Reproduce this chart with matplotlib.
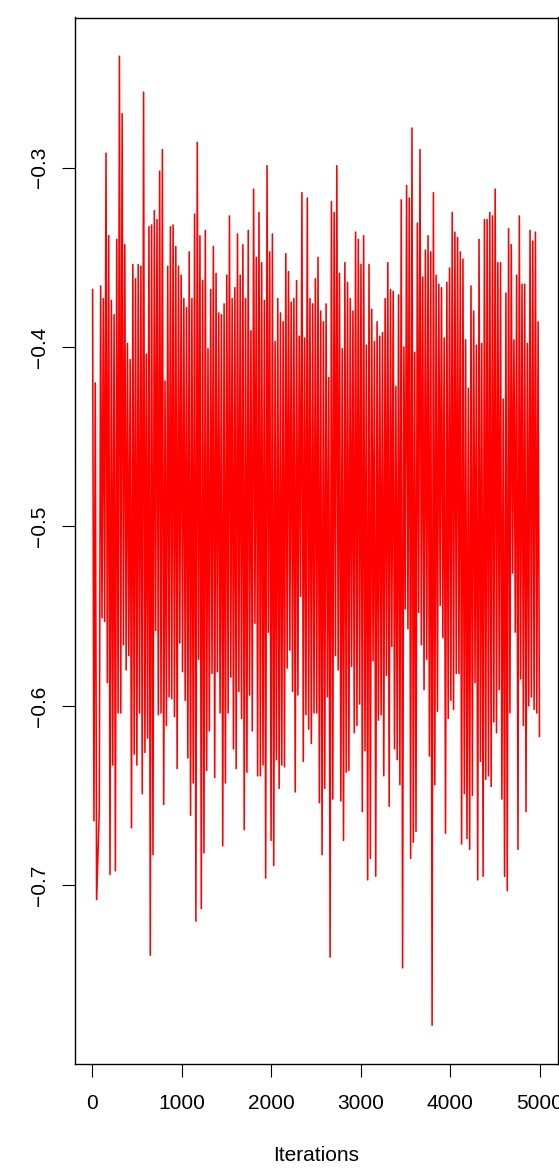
import numpy as np
import matplotlib
matplotlib.use("Agg")
import matplotlib.pyplot as plt

# MCMC trace: local highs and local lows with the
# iteration at which each one sits
upper_iter = [
    1, 30, 56, 97, 123, 149, 168, 194, 216, 228,
    246, 265, 291, 309, 328, 350, 376, 399, 432, 458,
    477, 496, 518, 540, 559, 577, 600, 615, 633, 656,
    674, 697, 726, 745, 767, 786, 808, 831, 842, 860,
    879, 898, 920, 942, 965, 987, 1017, 1043, 1069, 1087,
    1114, 1136, 1158, 1177, 1199, 1221, 1240, 1262, 1281, 1303,
    1322, 1352, 1374, 1393, 1419, 1437, 1456, 1478, 1497, 1519,
    1542, 1560, 1579, 1601, 1620, 1642, 1657, 1679, 1702, 1720,
    1743, 1765, 1787, 1810, 1836, 1862, 1884, 1906, 1929, 1951,
    1970, 1988, 2011, 2033, 2055, 2081, 2108, 2126, 2152, 2171,
    2182, 2200, 2219, 2245, 2268, 2290, 2308, 2331, 2353, 2375,
    2402, 2420,
    2435, 2457, 2476, 2495, 2513, 2528, 2550, 2569, 2580, 2599,
    2617, 2636, 2651, 2673, 2688, 2714, 2737, 2759, 2781, 2807,
    2830, 2848, 2871, 2885, 2904, 2926, 2949, 2971, 2993, 3016,
    3034, 3057, 3079, 3094, 3113, 3135, 3157, 3172, 3198, 3217,
    3239, 3258, 3280, 3302, 3325, 3347, 3366, 3388, 3407, 3425,
    3444, 3459, 3477, 3496, 3511, 3526, 3548, 3563, 3574, 3589,
    3608, 3623, 3637, 3652, 3667, 3690, 3704, 3723, 3745, 3771,
    3794, 3812, 3835, 3853, 3876, 3898, 3917, 3943, 3961, 3984,
    3999, 4017, 4032, 4051, 4069, 4088, 4106, 4129, 4144, 4170,
    4196, 4214, 4233, 4255, 4274, 4293, 4311, 4330, 4348, 4367,
    4386, 4404, 4423, 4442, 4460, 4479, 4497, 4516, 4535, 4553,
    4568, 4583, 4605, 4624, 4643, 4657, 4676, 4695, 4713, 4732,
    4751, 4769, 4784, 4799, 4818, 4836, 4855, 4873, 4892, 4911,
    4929, 4948, 4967, 4985, 5000,
]
upper_val = [
    -0.368, -0.408, -0.420, -0.366, -0.393, -0.373, -0.292, -0.338, -0.408, -0.374,
    -0.397, -0.382, -0.340, -0.238, -0.382, -0.270, -0.343, -0.398, -0.407, -0.385,
    -0.354, -0.362, -0.392, -0.354, -0.355, -0.343, -0.258, -0.404, -0.392, -0.333,
    -0.332, -0.324, -0.329, -0.379, -0.302, -0.290, -0.376, -0.419, -0.380, -0.355,
    -0.333, -0.388, -0.332, -0.344, -0.355, -0.366, -0.360, -0.373, -0.378, -0.347,
    -0.373, -0.402, -0.326, -0.286, -0.396, -0.338, -0.363, -0.388, -0.335, -0.401,
    -0.368, -0.344, -0.345, -0.359, -0.381, -0.391, -0.382, -0.376, -0.384, -0.360,
    -0.338, -0.327, -0.373, -0.367, -0.370, -0.337, -0.360, -0.386, -0.343, -0.373,
    -0.393, -0.335, -0.391, -0.312, -0.350, -0.325, -0.370, -0.353, -0.374, -0.341,
    -0.299, -0.347, -0.337, -0.357, -0.397, -0.373, -0.381, -0.390, -0.386, -0.374,
    -0.348, -0.381, -0.358, -0.375, -0.373, -0.375, -0.363, -0.394, -0.314, -0.395,
    -0.317, -0.340,
    -0.373, -0.407, -0.376, -0.362, -0.386, -0.406, -0.350, -0.380, -0.423, -0.386,
    -0.376, -0.392, -0.417, -0.406, -0.319, -0.325, -0.348, -0.299, -0.359, -0.401,
    -0.396, -0.353, -0.364, -0.373, -0.398, -0.380, -0.336, -0.391, -0.340, -0.354,
    -0.338, -0.391, -0.399, -0.401, -0.354, -0.379, -0.399, -0.397, -0.386, -0.410,
    -0.394, -0.392, -0.373, -0.369, -0.353, -0.368, -0.369, -0.386, -0.422, -0.386,
    -0.371, -0.372, -0.318, -0.400, -0.403, -0.310, -0.322, -0.317, -0.278, -0.406,
    -0.424, -0.403, -0.345, -0.331, -0.290, -0.361, -0.361, -0.346, -0.350, -0.338,
    -0.347, -0.327, -0.314, -0.360, -0.365, -0.367, -0.367, -0.395, -0.364, -0.399,
    -0.364, -0.356, -0.325, -0.369, -0.336, -0.366, -0.339, -0.347, -0.351, -0.381,
    -0.396, -0.423, -0.366, -0.391, -0.380, -0.413, -0.399, -0.340, -0.388, -0.398,
    -0.429, -0.329, -0.329, -0.399, -0.325, -0.344, -0.327, -0.312, -0.353, -0.353,
    -0.353, -0.388, -0.429, -0.394, -0.370, -0.334, -0.342, -0.343, -0.396, -0.397,
    -0.365, -0.360, -0.332, -0.327, -0.365, -0.365, -0.422, -0.398, -0.346, -0.335,
    -0.341, -0.341, -0.336, -0.386, -0.386,
]

lower_iter = [
    1, 23, 56, 86, 116, 135, 153, 179, 198, 216,
    235, 257, 291, 309, 328, 347, 369, 388, 406, 432,
    443, 466, 496, 518, 533, 555, 570, 592, 618, 637,
    656, 674, 697, 711, 726, 749, 767, 786, 805, 823,
    842, 860, 879, 898, 916, 935, 953, 972, 991, 1009,
    1035, 1054, 1073, 1091, 1114, 1128, 1147, 1166, 1177, 1195,
    1203, 1214, 1233, 1240, 1255, 1277, 1296, 1314, 1333, 1352,
    1370, 1389, 1408, 1426, 1445, 1463, 1489, 1501, 1519, 1538,
    1556, 1575, 1594, 1605, 1612, 1631, 1650, 1668, 1687, 1702,
    1724, 1743, 1761, 1780, 1799, 1817, 1836, 1854, 1873, 1880,
    1892, 1910, 1929, 1940, 1966, 1985, 2011, 2033, 2041, 2059,
    2085, 2096, 2115, 2133, 2152, 2171, 2189, 2208, 2227, 2245,
    2264, 2275, 2290, 2305, 2320, 2338, 2357, 2376, 2394, 2413,
    2439, 2457, 2476, 2498, 2513, 2535, 2554, 2562, 2573, 2599,
    2617, 2640, 2658, 2677, 2692, 2714, 2729, 2748, 2763, 2781,
    2800, 2811, 2841, 2859, 2871, 2878, 2897, 2915, 2934, 2952,
    2971, 2990, 3005, 3019, 3027, 3046, 3064, 3083, 3101, 3120,
    3139, 3153, 3176, 3194, 3213, 3232, 3250, 3269, 3288, 3302,
    3325, 3343, 3362, 3381, 3399, 3418, 3436, 3444, 3462, 3474,
    3492, 3511, 3529, 3548, 3559, 3585, 3604, 3611, 3623, 3641,
    3660, 3679, 3697, 3716, 3734, 3753, 3771, 3790, 3805, 3824,
    3846, 3865, 3883, 3902, 3920, 3939, 3950, 3976, 3995, 4013,
    4032, 4051, 4069, 4088, 4106, 4121, 4144, 4166, 4181, 4196,
    4222, 4237, 4259, 4274, 4293, 4311, 4319, 4330, 4352, 4375,
    4386, 4404, 4423, 4442, 4449, 4460, 4479, 4497, 4516, 4535,
    4553, 4572, 4583, 4605, 4624, 4646, 4665, 4684, 4702, 4721,
    4747, 4758, 4777, 4795, 4814, 4844, 4851, 4870, 4888, 4907,
    4926, 4944, 4963, 4981, 5000,
]
lower_val = [
    -0.589, -0.664, -0.708, -0.658, -0.551, -0.553, -0.564, -0.587, -0.694, -0.633,
    -0.607, -0.692, -0.604, -0.604, -0.578, -0.566, -0.579, -0.580, -0.572, -0.668,
    -0.597, -0.627, -0.633, -0.604, -0.578, -0.649, -0.627, -0.626, -0.618, -0.591,
    -0.739, -0.683, -0.552, -0.558, -0.605, -0.585, -0.604, -0.655, -0.609, -0.611,
    -0.582, -0.595, -0.596, -0.582, -0.606, -0.605, -0.635, -0.565, -0.581, -0.575,
    -0.597, -0.607, -0.629, -0.661, -0.562, -0.643, -0.720, -0.601, -0.544, -0.574,
    -0.713, -0.640, -0.653, -0.639, -0.682, -0.636, -0.614, -0.570, -0.582, -0.602,
    -0.640, -0.581, -0.547, -0.604, -0.628, -0.678, -0.643, -0.602, -0.604, -0.557,
    -0.584, -0.624, -0.635, -0.635, -0.591, -0.561, -0.592, -0.607, -0.641, -0.669,
    -0.637, -0.594, -0.577, -0.614, -0.585, -0.554, -0.621, -0.639, -0.639, -0.632,
    -0.633, -0.581, -0.597, -0.696, -0.559, -0.675, -0.676, -0.689, -0.629, -0.630,
    -0.646, -0.593, -0.633, -0.634, -0.621, -0.579, -0.570, -0.569, -0.560, -0.592,
    -0.630, -0.648, -0.594, -0.558, -0.532, -0.539, -0.631, -0.605, -0.594, -0.613,
    -0.621, -0.604, -0.604, -0.524, -0.604, -0.654, -0.630, -0.683, -0.617, -0.646,
    -0.543, -0.595, -0.740, -0.577, -0.652, -0.537, -0.572, -0.580, -0.606, -0.653,
    -0.645, -0.675, -0.637, -0.570, -0.635, -0.636, -0.578, -0.615, -0.598, -0.611,
    -0.566, -0.599, -0.617, -0.659, -0.620, -0.625, -0.625, -0.697, -0.685, -0.604,
    -0.575, -0.695, -0.639, -0.608, -0.605, -0.593, -0.639, -0.612, -0.583, -0.656,
    -0.559, -0.567, -0.624, -0.611, -0.602, -0.630, -0.639, -0.644, -0.746, -0.558,
    -0.546, -0.557, -0.522, -0.641, -0.685, -0.676, -0.619, -0.670, -0.606, -0.534,
    -0.548, -0.566, -0.591, -0.566, -0.574, -0.628, -0.564, -0.613, -0.778, -0.644,
    -0.592, -0.603, -0.544, -0.528, -0.562, -0.581, -0.671, -0.607, -0.597, -0.597,
    -0.602, -0.567, -0.582, -0.582, -0.520, -0.677, -0.628, -0.649, -0.639, -0.674,
    -0.680, -0.645, -0.650, -0.587, -0.697, -0.630, -0.641, -0.631, -0.695, -0.686,
    -0.641, -0.635, -0.639, -0.607, -0.645, -0.586, -0.609, -0.572, -0.615, -0.591,
    -0.562, -0.613, -0.652, -0.695, -0.703, -0.568, -0.604, -0.495, -0.526, -0.559,
    -0.680, -0.609, -0.585, -0.574, -0.611, -0.659, -0.641, -0.600, -0.592, -0.595,
    -0.596, -0.602, -0.604, -0.617, -0.571,
]

x_ticks = [0, 1000, 2000, 3000, 4000, 5000]
y_ticks = [-0.7, -0.6, -0.5, -0.4, -0.3]
n_iter = 5000
col = 30  # iterations per screen column (~2.7 px)

plt.rcParams['font.family'] = ['Liberation Sans', 'DejaVu Sans']
# keep every up/down stroke of the dense trace
plt.rcParams['path.simplify'] = False


def column_extremes(its, vals, pick):
    # highest (or lowest) reading in each screen column
    its = np.asarray(its)
    vals = np.asarray(vals)
    cols = (its - 1) // col
    keys = np.unique(cols)
    return keys, np.array([pick(vals[cols == k]) for k in keys])


hi_col, hi_val = column_extremes(upper_iter, upper_val, np.max)
lo_col, lo_val = column_extremes(lower_iter, lower_val, np.min)

# within a column the trace goes up to the high, then down to the low
x_all = np.concatenate([hi_col * col + 1, lo_col * col + 1 + col / 2])
v_all = np.concatenate([hi_val, lo_val])
order = np.argsort(x_all, kind='stable')
iters = x_all[order]
chain = v_all[order]

fig = plt.figure(figsize=(5.59, 11.7), dpi=100)
ax = fig.add_axes([74.7 / 559, 1 - 1064 / 1170, 483 / 559, 1046.5 / 1170])

ax.plot(iters, chain, color='#ff0000', linewidth=1.15)

# R-style 4% padding
xr = n_iter - 1
ax.set_xlim(1 - 0.04 * xr, n_iter + 0.04 * xr)
lo, hi = chain.min(), chain.max()
ax.set_ylim(lo - 0.04 * (hi - lo), hi + 0.04 * (hi - lo))

ax.set_xticks(x_ticks)
ax.set_yticks(y_ticks)
ax.set_yticklabels([f"{v:.1f}".replace('-', '\u2212') for v in y_ticks],
                   rotation=90, va='center')
ax.tick_params(axis='both', direction='out', length=9.4, width=0.8,
               labelsize=15, colors='black')
ax.tick_params(axis='x', pad=12)
ax.tick_params(axis='y', pad=9)
for s in ax.spines.values():
    s.set_linewidth(1.0)

ax.set_xlabel("Iterations", fontsize=15, labelpad=24)

fig.savefig("out.png", dpi=100)
